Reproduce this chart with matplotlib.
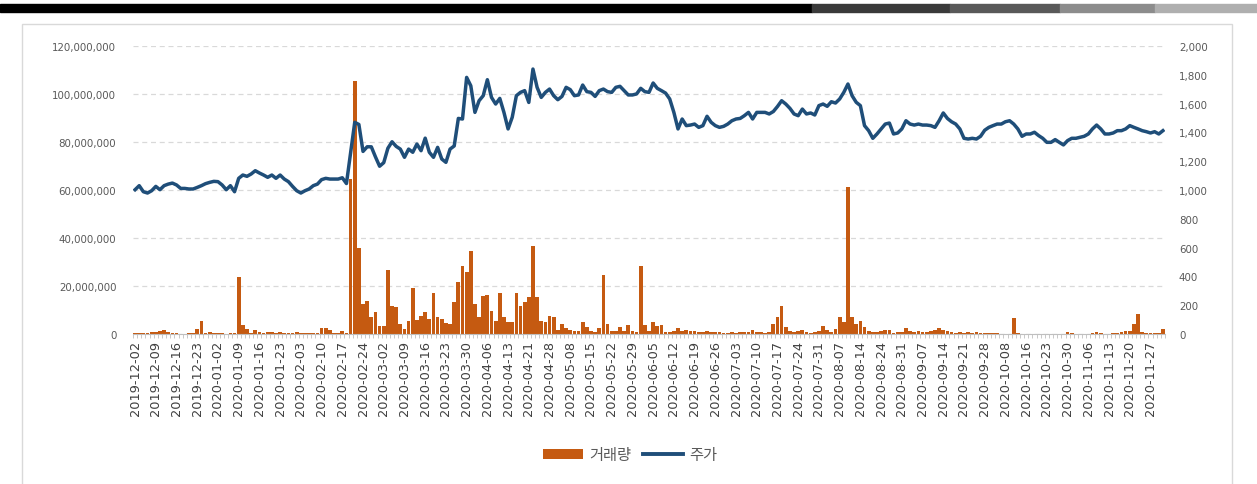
import numpy as np
import matplotlib
matplotlib.use("Agg")
import matplotlib.pyplot as plt
from matplotlib.patches import Rectangle, Patch
from matplotlib.lines import Line2D
from matplotlib.ticker import FuncFormatter

plt.rcParams['font.family'] = ['DejaVu Sans', 'Noto Sans CJK KR']

# ---------------- data ----------------
# weekly tick labels (every 5th trading day)
tick_labels = [
    "2019-12-02", "2019-12-09", "2019-12-16", "2019-12-23", "2020-01-02",
    "2020-01-09", "2020-01-16", "2020-01-23", "2020-02-03", "2020-02-10",
    "2020-02-17", "2020-02-24", "2020-03-02", "2020-03-09", "2020-03-16",
    "2020-03-23", "2020-03-30", "2020-04-06", "2020-04-13", "2020-04-21",
    "2020-04-28", "2020-05-08", "2020-05-15", "2020-05-22", "2020-05-29",
    "2020-06-05", "2020-06-12", "2020-06-19", "2020-06-26", "2020-07-03",
    "2020-07-10", "2020-07-17", "2020-07-24", "2020-07-31", "2020-08-07",
    "2020-08-14", "2020-08-24", "2020-08-31", "2020-09-07", "2020-09-14",
    "2020-09-21", "2020-09-28", "2020-10-08", "2020-10-16", "2020-10-23",
    "2020-10-30", "2020-11-06", "2020-11-13", "2020-11-20", "2020-11-27",
]

# share price (주가), one value per trading day
price = [
    1002, 1030, 988, 979, 995, 1025, 1002, 1030, 1041, 1048,
    1035, 1011, 1011, 1007, 1007, 1018, 1030, 1044, 1053, 1060,
    1058, 1035, 1002, 1030, 988, 1081, 1104, 1095, 1111, 1134,
    1118, 1104, 1088, 1104, 1081, 1104, 1076, 1058, 1025, 995,
    979, 995, 1007, 1030, 1041, 1072, 1081, 1076, 1076, 1076,
    1085, 1045,
    1260, 1470, 1455, 1268, 1300, 1300, 1230, 1165, 1190, 1290,
    1335, 1303, 1284, 1227, 1284, 1262, 1319, 1273, 1360, 1262,
    1227, 1296, 1215, 1192, 1284, 1306, 1497, 1493, 1782, 1724,
    1539, 1620, 1655, 1766, 1643, 1597, 1636, 1539, 1424, 1505,
    1655, 1678, 1690, 1608, 1840, 1713, 1643, 1678, 1701, 1655,
    1627, 1650, 1713, 1697, 1655, 1660, 1729, 1683, 1678, 1650,
    1690, 1701, 1683, 1678, 1713, 1720, 1690, 1660, 1660, 1667,
    1706, 1683, 1678, 1743, 1706, 1690, 1673, 1632, 1539, 1424,
    1493, 1447, 1451, 1458, 1435, 1447, 1512, 1470, 1447, 1435,
    1442, 1458, 1481, 1493, 1497, 1516, 1539, 1493, 1539, 1539,
    1539, 1528,
    1545, 1580, 1620, 1597, 1567, 1528, 1516, 1562, 1528, 1535,
    1521, 1586, 1597, 1581, 1613, 1604, 1632, 1678, 1736, 1655,
    1609, 1586, 1447, 1412, 1359, 1389, 1424, 1458, 1465, 1389,
    1396, 1424, 1481, 1458, 1451, 1458, 1451, 1451, 1447, 1435,
    1481, 1535, 1497, 1474, 1458, 1424, 1359, 1354, 1359, 1354,
    1373,
    1415, 1435, 1447, 1458, 1458, 1474, 1481, 1458, 1424, 1373,
    1389, 1389, 1401, 1378, 1359, 1331, 1331, 1350, 1331, 1313,
    1343, 1359, 1359, 1366, 1373, 1389, 1424, 1451, 1424, 1389,
    1389, 1396, 1412, 1412, 1424, 1447, 1435, 1424, 1412, 1405,
    1396, 1405, 1389, 1412,
]

# trading volume (거래량), millions of shares
volume_m = [
    0.3, 0.3, 0.5, 0.5, 0.8, 0.7, 1.2, 1.5, 0.8, 0.3,
    0.3, 0.2, 0.2, 0.3, 0.4, 2.0, 5.3, 0.5, 0.8, 0.3,
    0.3, 0.3, 0.2, 0.3, 0.4, 23.6, 3.8, 2.0, 0.6, 1.8,
    1.0, 0.6, 0.8, 0.7, 0.4, 0.8, 0.6, 0.6, 0.6, 0.8,
    0.6, 0.5, 0.5, 0.5, 0.4, 2.5, 2.5, 1.8, 0.6, 0.5,
    1.2, 0.5,
    64.6, 105.5, 36.0, 12.5, 13.9, 7.0, 9.0, 3.5, 3.5, 26.7,
    11.5, 11.1, 4.2, 2.0, 5.6, 19.0, 6.0, 7.6, 9.0, 6.3,
    17.1, 7.0, 6.3, 4.4, 4.2, 13.2, 21.5, 28.5, 25.7, 34.7,
    12.5, 7.0, 15.7, 16.3, 9.7, 5.6, 17.1, 7.0, 4.9, 4.9,
    17.1, 11.8, 13.2, 15.3, 36.5, 15.3, 5.6, 4.9, 7.6, 7.2,
    1.8, 4.2, 2.4, 1.8, 1.4, 1.4, 5.1, 3.0, 1.4, 0.7,
    2.4, 24.6, 4.2, 1.4, 1.4, 3.0, 1.4, 3.75, 1.4, 1.0,
    28.5, 3.75, 1.4, 4.9, 3.5, 3.75, 1.0, 1.0, 1.4, 2.4,
    1.4, 1.8, 1.4, 1.4, 0.7, 1.0, 1.4, 0.7, 0.7, 1.0,
    0.4, 0.4, 1.0, 0.4, 1.0, 0.7, 1.0, 1.8, 0.7, 1.0,
    0.4, 0.7,
    4.2, 7.0, 11.8, 2.8, 1.4, 1.0, 1.4, 1.8, 0.7, 0.4,
    0.7, 1.4, 3.2, 1.8, 1.0, 2.1, 7.0, 4.9, 61.4, 7.0,
    4.2, 5.6, 2.8, 1.4, 1.0, 0.7, 1.4, 1.8, 1.8, 0.4,
    0.7, 0.7, 2.4, 1.4, 1.0, 1.4, 0.7, 0.7, 1.4, 1.8,
    2.4, 1.8, 1.4, 0.7, 0.4, 0.7, 0.4, 0.7, 0.4, 0.7,
    0.4,
    0.4, 0.3, 0.3, 0.3, 0.2, 0.2, 0.2, 6.5, 0.4, 0.2,
    0.2, 0.2, 0.2, 0.2, 0.2, 0.2, 0.2, 0.2, 0.2, 0.2,
    0.8, 0.3, 0.2, 0.2, 0.2, 0.2, 0.3, 1.0, 0.3, 0.2,
    0.2, 0.3, 0.3, 1.0, 1.2, 1.4, 4.2, 8.3, 1.0, 0.4,
    0.3, 0.3, 0.3, 2.1,
]

series_names = ["거래량", "주가"]

# ---------------- style ----------------
BAR_C = "#C55A11"
LINE_C = "#1F4E79"
GRID_C = "#D9D9D9"
TXT_C = "#595959"

W, H = 1257, 485
fig = plt.figure(figsize=(W / 100, H / 100), dpi=100)
fig.patch.set_facecolor("white")

# top decorative band
band = [(0, 812, "#000000"), (812, 950, "#3A3A3A"), (950, 1060, "#595959"),
        (1060, 1155, "#8C8C8C"), (1155, 1257, "#AFAFAF")]
for x0, x1, c in band:
    fig.patches.append(Rectangle((x0 / W, 1 - 13 / H), (x1 - x0) / W, 8 / H,
                                 transform=fig.transFigure, color=c, zorder=0))
# chart frame
fig.patches.append(Rectangle((22 / W, -0.05), (1232 - 22) / W, 1.05 - 25 / H,
                             transform=fig.transFigure, facecolor="none",
                             edgecolor=GRID_C, linewidth=1.0, zorder=0))

ax = fig.add_axes([133 / W, 1 - 335 / H, (1165 - 133) / W, (335 - 47) / H])
n = len(price)
x = np.arange(n)
vol = np.array(volume_m) * 1e6

ax.bar(x, vol, width=0.9, color=BAR_C, linewidth=0, zorder=2)
ax.set_ylim(0, 120e6)
ax.set_yticks(np.arange(0, 120e6 + 1, 20e6))
ax.yaxis.set_major_formatter(FuncFormatter(lambda v, p: f"{int(v):,}"))
ax.set_xlim(-0.5, n - 0.5)
ax.grid(axis="y", color=GRID_C, linestyle=(0, (4, 3)), linewidth=0.9, zorder=0)
ax.set_axisbelow(True)

ax.set_xticks(x[::5][:len(tick_labels)])
ax.set_xticklabels(tick_labels, rotation=90, fontsize=9.3, color="#404040")
ax.set_xticks(np.arange(-0.5, n, 1), minor=True)
ax.tick_params(axis="x", which="major", length=0, pad=4)
ax.tick_params(axis="x", which="minor", length=3, color="#BFBFBF", width=0.6)
ax.tick_params(axis="y", length=0, labelsize=7.4, labelcolor=TXT_C, pad=12)
for s in ["top", "right", "left"]:
    ax.spines[s].set_visible(False)
ax.spines["bottom"].set_color("#BFBFBF")
ax.spines["bottom"].set_linewidth(0.8)

ax2 = ax.twinx()
ax2.plot(x, price, color=LINE_C, linewidth=2.5, zorder=3, solid_joinstyle="round")
ax2.set_ylim(0, 2000)
ax2.set_yticks(np.arange(0, 2001, 200))
ax2.yaxis.set_major_formatter(FuncFormatter(lambda v, p: f"{int(v):,}"))
ax2.tick_params(axis="y", length=0, labelsize=7.4, labelcolor=TXT_C, pad=10)
for s in ["top", "right", "left", "bottom"]:
    ax2.spines[s].set_visible(False)

handles = [Patch(facecolor=BAR_C, edgecolor="none", label=series_names[0]),
           Line2D([0], [0], color=LINE_C, linewidth=2.8, label=series_names[1])]
leg = fig.legend(handles=handles, loc="center", bbox_to_anchor=(630 / W, 1 - 456 / H),
                 ncol=2, frameon=False, handlelength=2.6, handleheight=0.55,
                 columnspacing=0.8, handletextpad=0.4,
                 prop={"family": ["Noto Sans CJK KR", "DejaVu Sans"], "size": 11})
for t in leg.get_texts():
    t.set_color(TXT_C)

fig.savefig("out.png", dpi=100, facecolor="white")
